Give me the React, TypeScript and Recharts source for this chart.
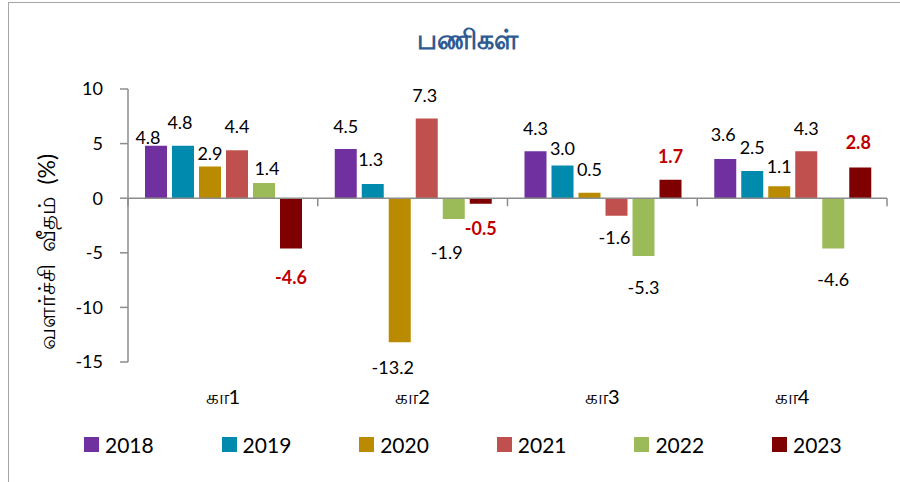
import { BarChart, Bar, XAxis, YAxis, ReferenceLine, LabelList } from 'recharts';

const categories = ['கா1', 'கா2', 'கா3', 'கா4'];
const years = ['2018', '2019', '2020', '2021', '2022', '2023'];
const v2018 = [4.8, 4.5, 4.3, 3.6];
const v2019 = [4.8, 1.3, 3.0, 2.5];
const v2020 = [2.9, -13.2, 0.5, 1.1];
const v2021 = [4.4, 7.3, -1.6, 4.3];
const v2022 = [1.4, -1.9, -5.3, -4.6];
const v2023 = [-4.6, -0.5, 1.7, 2.8];
const yTicks = [-15, -10, -5, 0, 5, 10];

const COLORS = ['#7030A0', '#008BAE', '#BA8A00', '#C0504D', '#9BBB59', '#7F0000'];
const FONT = "Lato, 'Noto Sans', sans-serif";

// label nudges [dx, dy] per year per quarter, like the hand-moved labels in the source
const NUDGE: number[][][] = [
  [[-8, 15], [0, 1], [0, 0], [-2, -1]],
  [[-3, 0], [-2, -1], [0, 6], [0, 0]],
  [[0, 10], [-7, 0], [0, 0], [0, 4]],
  [[0, 0], [-2, 0], [-2, -3], [0, 0]],
  [[3, 9], [-7, 9], [0, 7], [0, 6]],
  [[0, 4], [0, 0], [0, 0], [-2, -2]],
];

const series = [v2018, v2019, v2020, v2021, v2022, v2023];
const data = categories.map((cat, i) => {
  const row: Record<string, string | number> = { cat };
  years.forEach((y, s) => {
    row[y] = series[s][i];
  });
  return row;
});

function makeLabel(s: number) {
  const last = s === years.length - 1;
  return (props: any) => {
    const { x, y, width, height, value, index } = props;
    const top = Math.min(y, y + height);
    const bottom = Math.max(y, y + height);
    const [dx, dy] = NUDGE[s][index] ?? [0, 0];
    const cy = value >= 0 ? top - 23 + dy : bottom + 25 + dy;
    return (
      <text
        x={x + width / 2 + dx}
        y={cy}
        dy="0.35em"
        textAnchor="middle"
        fontSize={18}
        fontFamily={FONT}
        fontWeight={last ? 700 : 400}
        fill={last ? '#C00000' : '#000'}
      >
        {Number(value).toFixed(1)}
      </text>
    );
  };
}

const CatTick = (props: any) => {
  const { x, y, payload } = props;
  return (
    <text x={x} y={y + 35} dy="0.35em" textAnchor="middle" fontSize={20} fontFamily={FONT} fill="#000">
      {payload.value}
    </text>
  );
};

const ZeroLine = (props: any) => {
  const { x1, y1, x2, y2 } = props;
  const n = categories.length;
  const step = (x2 - x1) / n;
  return (
    <g>
      <line x1={x1} y1={y1} x2={x2} y2={y2} stroke="#8C8C8C" strokeWidth={1.5} />
      {Array.from({ length: n + 1 }, (_, i) => (
        <line key={i} x1={x1 + i * step} y1={y1} x2={x1 + i * step} y2={y1 + 8} stroke="#8C8C8C" strokeWidth={1.5} />
      ))}
    </g>
  );
};

export default function App() {
  return (
    <div style={{ position: 'absolute', left: 0, top: 0, width: 900, height: 482, background: '#fff' }}>
      <div
        style={{
          position: 'absolute',
          left: 8,
          top: 2,
          width: 900,
          height: 490,
          borderLeft: '1.5px solid #A6A6A6',
          borderTop: '1.5px solid #A6A6A6',
        }}
      />
      <div style={{ position: 'absolute', left: 0, top: 0 }}>
        <BarChart
          width={900}
          height={482}
          data={data}
          margin={{ top: 89, right: 13, bottom: 80, left: 0 }}
          barCategoryGap={17}
          barGap={5}
        >
          <text x={467} y={40} dy="0.35em" textAnchor="middle" fontSize={27} fontWeight={700} fill="#2E5B91" fontFamily={FONT}>
            பணிகள்
          </text>
          <text
            x={47}
            y={252}
            dy="0.35em"
            textAnchor="middle"
            fontSize={23}
            fontFamily={FONT}
            fill="#000"
            transform="rotate(-90 47 252)"
          >
            {'வளர்ச்சி\u00A0\u00A0வீதம்\u00A0\u00A0(%)'}
          </text>
          <XAxis dataKey="cat" axisLine={false} tickLine={false} tickSize={0} tickMargin={0} height={40} tick={<CatTick />} interval={0} />
          <YAxis
            width={128}
            domain={[-15, 10]}
            ticks={yTicks}
            allowDataOverflow
            axisLine={{ stroke: '#8C8C8C', strokeWidth: 1.5 }}
            tickLine={{ stroke: '#8C8C8C', strokeWidth: 1.5 }}
            tickSize={8}
            tickMargin={17}
            tick={{ fill: '#000', fontSize: 18, fontFamily: FONT }}
          />
          {years.map((y, s) => (
            <Bar key={y} dataKey={y} fill={COLORS[s]} isAnimationActive={false}>
              <LabelList dataKey={y} content={makeLabel(s)} />
            </Bar>
          ))}
          <ReferenceLine y={0} shape={ZeroLine} ifOverflow="extendDomain" />
        </BarChart>
      </div>
      <div style={{ position: 'absolute', top: 432, left: 0, width: 900, height: 24 }}>
        {years.map((y, s) => (
          <div
            key={y}
            style={{
              position: 'absolute',
              left: 84 + s * 137.6,
              top: 0,
              display: 'flex',
              alignItems: 'center',
              fontFamily: FONT,
              fontSize: 21,
              color: '#000',
            }}
          >
            <span style={{ width: 15, height: 15, background: COLORS[s], display: 'inline-block', marginRight: 6 }} />
            <span>{y}</span>
          </div>
        ))}
      </div>
    </div>
  );
}
